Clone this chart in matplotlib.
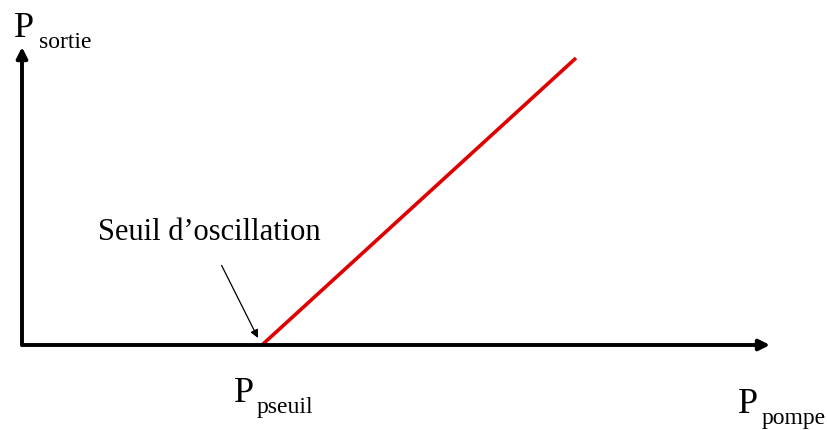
#!/usr/bin/env python3
"""Laser threshold diagram: output power vs pump power."""
import matplotlib
matplotlib.use("Agg")
import matplotlib.pyplot as plt

# data (units: arbitrary, origin at axis crossing)
pump_axis_end = 748
out_axis_end = 298
threshold = 240
pump_line = [threshold, 554]
out_line = [0, 287]

label_out = ("P", "sortie")
label_pump = ("P", "pompe")
label_threshold = ("P", "pseuil")
annot_text = "Seuil d\u2019oscillation"

plt.rcParams["font.family"] = ["Liberation Serif", "DejaVu Serif"]

fig = plt.figure(figsize=(8.27, 4.30), dpi=100)
ax = fig.add_axes([0, 0, 1, 1])
ax.set_xlim(-22, 805)
ax.set_ylim(-85, 345)
ax.axis("off")

arrow_kw = dict(arrowstyle="-|>", lw=2.8, color="black", mutation_scale=16,
                shrinkA=0, shrinkB=0)
ax.annotate("", xy=(pump_axis_end, 0), xytext=(0, 0), arrowprops=arrow_kw)
ax.annotate("", xy=(0, out_axis_end), xytext=(0, 0), arrowprops=arrow_kw)

ax.plot(pump_line, out_line, color="#e00000", lw=2.6, solid_capstyle="butt")

ax.annotate(annot_text, xy=(threshold - 4, 7), xytext=(76, 113),
            fontsize=22, ha="left", va="center",
            arrowprops=dict(arrowstyle="-|>", lw=0.9, color="black",
                            mutation_scale=12, shrinkA=13, shrinkB=0,
                            relpos=(0.48, 0.5)))


def plabel(x, y, parts, size=26, subsize=17, dx=23, dy=-11):
    ax.text(x, y, parts[0], fontsize=size, ha="left", va="baseline")
    ax.text(x + dx, y + dy, parts[1], fontsize=subsize, ha="left", va="baseline")


plabel(-8, 308, label_out, dx=25)
plabel(212, -57, label_threshold)
plabel(716, -68, label_pump, dx=24)

fig.savefig("out.png", dpi=100)
